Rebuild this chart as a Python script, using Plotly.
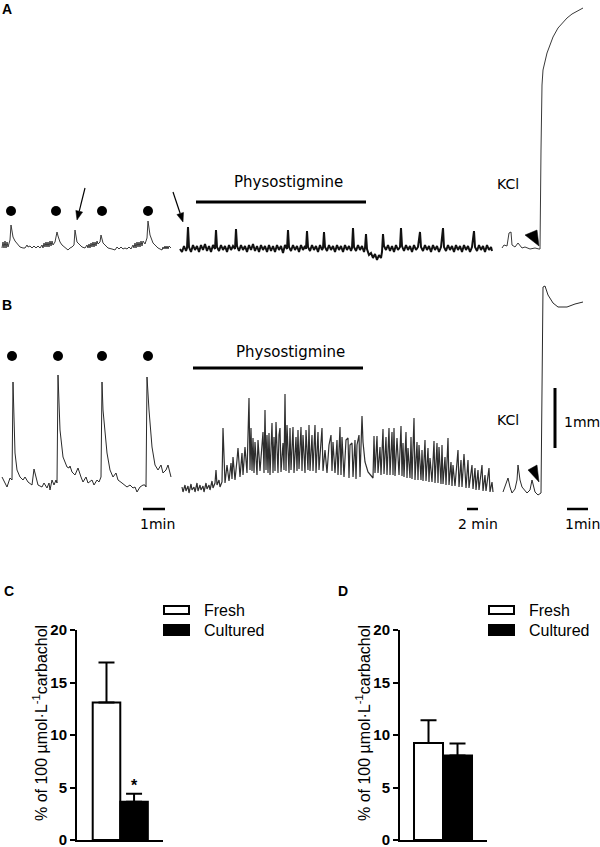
import plotly.graph_objects as go

W, H = 600, 847

# ---------------- trace data (x = record position, h = tension; 60 units = 1 mm) ----------------
A_SEG1_X = [2,3,4,5,6,7,8,10,11,13, 15,17,20,23,25,27,28,30,32,34, 36,38,40,42,43,44,45,46,47,48,
            49,50,51,52,53,55,57,58,60,62, 65,68,70,72,74,75,77,79,82,85, 87,88,89,90,91,92,93,94,95,96,
            97,98,100,101,103,105,108,112,115,117, 119,121,123,125,127,129,131,133,134,135,
            136,137,138,139,140,141,142,143,145,147, 148,150,153,156,158,162,163,164,165,166, 167,168,169,171]
A_SEG1_H = [2,8,2,9,2,8,3,10,25,13, 9,7,3,2,2,5,3,4,2,4, 2,4,2,5,2,7,3,8,3,8,
            3,9,4,9,5,8,18,14,8,5, 2,0,2,3,5,20,8,6,3,2, 5,2,6,2,7,3,8,3,8,4,
            9,6,8,15,7,5,2,1,0,3, 1,3,1,2,1,3,1,5,2,7,
            2,8,3,8,3,9,4,9,6,12, 29,15,7,4,2,0,3,1,4,1, 4,1,4,2]

A_SEG2_X = [180,182,184,186,187,188,189,191,193,195, 197,199,201,203,205,207,209,211,213,215,
            216,217,219,221,223,225,227,229,231,233, 235,236,237,239,241,243,245,247,249,251,
            253,255,257,259,261,263,265,267,269,271, 273,275,277,279,281,283,285,287,288,289,
            291,293,295,297,299,301,303,305,306,307, 308,310,312,314,316,318,320,322,323,324,
            325,327,329,331,333,335,337,339,341,343, 345,347,349,351,352,353,354,356,358,360,
            362,364,365,366,367,369,371,373,375,377, 379,381,382,383,384,386,388,390,392,394,
            396,398,400,401,402,404,406,408,410,412, 414,416,418,420,421,423,425,427,429,431,
            433,435,437,439,441,443,444,446,448,450, 452,454,456,458,460,462,464,466,468,470,
            472,474,475,477,479,481,483,485,487,489, 491,492]
A_SEG2_H = [1,-2,4,-1,2,23,3,-2,5,0, 4,-2,5,0,6,-1,4,-2,5,1,
            20,3,-1,5,0,4,-2,5,0,4, 1,21,4,-1,5,0,4,-2,5,0,
            6,-1,4,-2,5,0,4,-2,5,-1, 4,-2,5,0,4,-3,5,1,20,3,
            -1,5,0,4,-2,5,0,4,1,19, 3,-1,5,0,4,-2,5,0,2,18,
            3,-1,5,0,4,-2,5,0,4,-2, 5,0,4,-1,2,22,3,-1,5,0,
            4,-2,2,16,1,-5,-3,-8,-4,-10, -5,-8,-2,16,4,0,5,-1,4,-2,
            5,0,3,22,4,-1,5,0,4,-2, 5,0,3,18,3,-1,5,0,4,-2,
            5,0,4,-2,3,22,3,-1,5,0, 4,-2,5,0,4,-2,5,0,4,-2,
            3,19,3,-1,5,0,4,-2,5,0, 3,-1]

A_SEG3_X = [502,504,507,509,511,512,515,518,522,525, 530,535,539,540,541,542,543,545,547,550,
            553,558,563,567,572,577,583]
A_SEG3_H = [2,5,4,17,18,5,3,7,2,3, 1,2,1,1,100,165,180,190,197,205,
            213,222,228,232,236,239,242]

B_SEG1_X = [2,7,10,12,13,15,17,20,23,25, 28,32,34,37,38,42,44,47,49,50, 52,54,56,57,58,60,63,67,69,70,
            72,75,78,81,83,86,88,92,94,97, 99,101,102,103,107,110,113,116,118,122,
            125,127,130,133,135,137,140,143,145,146, 147,149,152,155,158,161,163,166,168,171]
B_SEG1_H = [18,8,17,15,113,42,25,18,15,18, 13,10,26,15,10,8,12,7,12,5, 15,10,15,12,120,65,38,28,27,29,
            23,20,27,18,13,18,12,15,10,15, 13,18,113,85,42,25,18,22,15,12,
            10,8,10,7,8,3,8,10,10,8, 118,85,48,30,25,30,22,25,30,18]

B_SEG2_X = [182,183,185,186,188,189,191,192,194,195, 197,198,200,201,203,204,206,207,209,210,
            212,213,215,216,217,219,220,222,223,225, 227,229,231,232,233,235,237,238,240,242,
            243,245,247,249,250,251,252,253,254,255, 257,258,260,263,264,265,266,267,268,269,
            270,272,273,274,275,276,278,279,280,281, 283,284,285,286,287,289,290,291,293,294,
            296,297,298,299,301,302,303,305,306,308, 309,310,312,313,315,316,318,319,322,323,
            325,327,329,331,332,333,335,337,338,340, 341,342,344,346,348,349,350,352,353,355,
            356,357,359,360,362,363,365,368,373,374, 375,377,378,380,381,383,384,386,387,389,
            390,392,393,394,395,397,399,401,402,403, 404,406,407,408,410,411,412,413,414,415,
            417,418,419,421,422,423,425,426,428,429, 430,432,434,435,437,438,439,441,442,443,
            445,446,448,449,451,452,453,455,458,459, 461,462,464,466,468,469,472,473,475,476,
            478,479,482,483,485,486,489,490,492,493]
B_SEG2_H = [8,3,10,4,9,2,11,5,8,3, 12,4,10,5,9,3,12,6,10,5,
            14,7,12,25,10,15,8,13,67,12, 30,14,32,16,38,15,35,47,18,42,
            20,48,22,97,25,67,24,57,22,53, 20,55,24,63,22,85,25,60,22,62,
            20,72,22,58,24,73,22,60,67,23, 52,25,101,24,70,22,67,25,68,22,
            58,24,65,26,68,24,60,22,65,25, 70,24,60,24,70,22,63,25,67,24,
            45,22,50,60,24,53,22,55,20,68, 20,58,18,55,57,17,50,52,18,55,
            16,50,60,18,79,53,33,23,17,59, 22,59,22,48,20,66,21,58,20,67,
            20,63,20,67,19,57,20,69,19,52, 18,63,17,47,17,58,16,57,77,15,
            53,15,50,15,45,14,55,14,47,13, 37,13,54,12,52,12,48,11,50,11,
            38,10,57,10,33,9,30,9,45,8, 35,8,41,7,35,7,30,6,27,5,
            25,5,30,4,20,4,27,3,13,3]

B_SEG3_X = [503,505,508,510,512,515,517,518,520,522, 525,527,530,532,535,538,541,542,543,545,
            548,553,558,567,575,583]
B_SEG3_H = [3,8,17,8,2,6,15,30,15,8, 4,2,5,15,3,0,2,100,208,209,
            200,192,188,188,191,193]

A_DOT_X = [11, 56, 102, 148]
B_DOT_X = [12, 58, 102, 148]

for xs, hs in [(A_SEG1_X, A_SEG1_H), (A_SEG2_X, A_SEG2_H), (A_SEG3_X, A_SEG3_H),
               (B_SEG1_X, B_SEG1_H), (B_SEG2_X, B_SEG2_H), (B_SEG3_X, B_SEG3_H)]:
    assert len(xs) == len(hs), (len(xs), len(hs))

# ---------------- bar chart data ----------------
GROUPS = ["Fresh", "Cultured"]
C_MEAN = [13.1, 3.65]
C_SEM = [3.8, 0.75]
D_MEAN = [9.25, 8.05]
D_SEM = [2.15, 1.15]
Y_TICKS = [0, 5, 10, 15, 20]

# ---------------- helpers ----------------
def px_x(v):
    return v / W

def px_y(v):
    return 1 - v / H

def dom_y(top, bot):
    return [px_y(bot), px_y(top)]

TRACE_FONT = "DejaVu Sans"
SANS = "Liberation Sans, Arial, sans-serif"

fig = go.Figure()

def seg(xs, hs, ax, color="#2a2a2a", width=1.0):
    fig.add_trace(go.Scatter(x=xs, y=hs, mode="lines", line=dict(color=color, width=width),
                             xaxis="x" if ax == 1 else "x2", yaxis="y" if ax == 1 else "y2",
                             showlegend=False, hoverinfo="skip"))

seg(A_SEG1_X, A_SEG1_H, 1, "#3a3a3a", 1.0)
seg(A_SEG2_X, A_SEG2_H, 1, "#111111", 2.0)
seg(A_SEG3_X, A_SEG3_H, 1, "#3a3a3a", 1.0)
seg(B_SEG1_X, B_SEG1_H, 2, "#2a2a2a", 1.0)
seg(B_SEG2_X, B_SEG2_H, 2, "#2e2e2e", 1.2)
seg(B_SEG3_X, B_SEG3_H, 2, "#2a2a2a", 1.0)

# dots above contractions
fig.add_trace(go.Scatter(x=A_DOT_X, y=[39] * len(A_DOT_X), mode="markers",
                         marker=dict(color="black", size=10), xaxis="x", yaxis="y",
                         showlegend=False, hoverinfo="skip"))
fig.add_trace(go.Scatter(x=B_DOT_X, y=[139] * len(B_DOT_X), mode="markers",
                         marker=dict(color="black", size=10), xaxis="x2", yaxis="y2",
                         showlegend=False, hoverinfo="skip"))

# bars C and D
fills = ["white", "black"]
for i, g in enumerate(GROUPS):
    fig.add_trace(go.Bar(x=[i], y=[C_MEAN[i]], width=1, name=g, xaxis="x3", yaxis="y3",
                         marker=dict(color=fills[i], line=dict(color="black", width=2)),
                         error_y=dict(type="data", array=[C_SEM[i]], arrayminus=[0], symmetric=False,
                                      color="black", thickness=2, width=8),
                         showlegend=False, hoverinfo="skip"))
    fig.add_trace(go.Bar(x=[i], y=[D_MEAN[i]], width=1, name=g, xaxis="x4", yaxis="y4",
                         marker=dict(color=fills[i], line=dict(color="black", width=2)),
                         error_y=dict(type="data", array=[D_SEM[i]], arrayminus=[0], symmetric=False,
                                      color="black", thickness=2, width=8),
                         showlegend=False, hoverinfo="skip"))

hidden = dict(visible=False, fixedrange=True, automargin=False)
bar_x = dict(showline=True, linewidth=2, linecolor="black", showticklabels=False, ticks="",
             showgrid=False, zeroline=False, automargin=False)
bar_y = dict(range=[0, 20], showline=True, linewidth=2, linecolor="black", ticks="outside",
             ticklen=5, tickwidth=2, tickcolor="black", tickvals=Y_TICKS, showgrid=False,
             zeroline=False, automargin=False, ticklabeloverflow="allow",
             tickfont=dict(family=SANS, size=15, color="black", weight="bold"))

fig.update_layout(
    width=W, height=H, margin=dict(l=0, r=0, t=0, b=0, autoexpand=False),
    paper_bgcolor="white", plot_bgcolor="rgba(0,0,0,0)", barmode="overlay",
    xaxis=dict(domain=[0, 1], range=[0, 600], anchor="y", **hidden),
    yaxis=dict(domain=dom_y(0, 270), range=[-20, 250], anchor="x", **hidden),
    xaxis2=dict(domain=[0, 1], range=[0, 600], anchor="y2", **hidden),
    yaxis2=dict(domain=dom_y(280, 540), range=[-45, 215], anchor="x2", **hidden),
    xaxis3=dict(domain=[px_x(77), px_x(163)], range=[-1.07, 2.05], anchor="y3", **bar_x),
    yaxis3=dict(domain=dom_y(630, 840), anchor="x3", **bar_y),
    xaxis4=dict(domain=[px_x(400), px_x(487)], range=[-0.983, 2.017], anchor="y4", **bar_x),
    yaxis4=dict(domain=dom_y(630, 840), anchor="x4", **bar_y),
)

shapes = []
ann = []

def line_shape(x0, y0, x1, y1, ax, w=3):
    shapes.append(dict(type="line", xref="x" if ax == 1 else "x2", yref="y" if ax == 1 else "y2",
                       x0=x0, y0=y0, x1=x1, y1=y1, line=dict(color="black", width=w)))

def tri(path, ax):
    shapes.append(dict(type="path", xref="x" if ax == 1 else "x2", yref="y" if ax == 1 else "y2",
                       path=path, fillcolor="black", line=dict(color="black", width=0.5)))

def text(x, y, s, ax, size=14, xanchor="center", family=TRACE_FONT):
    ann.append(dict(x=x, y=y, xref="x" if ax == 1 else "x2", yref="y" if ax == 1 else "y2",
                    text=s, showarrow=False, xanchor=xanchor, yanchor="middle",
                    font=dict(family=family, size=size, color="black")))

# Panel A decorations
line_shape(196, 48, 366, 48, 1)
text(288, 68, "Physostigmine", 1, size=15)
text(508, 66, "KCl", 1, size=14)
tri("M 525,15 L 537,20 L 539,4 Z", 1)
# arrows pointing at spontaneous contractions
line_shape(85, 62, 79.2, 38.7, 1, w=1.2)
tri("M 77,30 L 82.6,37.9 L 75.8,39.6 Z", 1)
line_shape(173, 58, 180.2, 36.5, 1, w=1.2)
tri("M 183,28 L 183.5,37.6 L 176.9,35.4 Z", 1)

# Panel B decorations
line_shape(193, 127, 363, 127, 2)
text(290, 143, "Physostigmine", 2, size=15)
text(508, 75, "KCl", 2, size=14)
tri("M 528,25 L 537,30 L 539,13 Z", 2)
line_shape(555, 47, 555, 107, 2, w=3)
text(562, 73, "1mm", 2, size=14, xanchor="left")
line_shape(143, -14, 165, -14, 2, w=2.5)
line_shape(467, -14, 478, -14, 2, w=2.5)
line_shape(567, -14, 588, -14, 2, w=2.5)
text(157, -29, "1min", 2, size=14)
text(478, -29, "2 min", 2, size=14)
text(582, -29, "1min", 2, size=14)

# panel letters
for lx, ly, s in [(7, 9, "A"), (7, 305, "B"), (9, 591, "C"), (343, 591, "D")]:
    ann.append(dict(x=px_x(lx), y=px_y(ly), xref="paper", yref="paper", text=s, showarrow=False,
                    xanchor="center", yanchor="middle",
                    font=dict(family=SANS, size=14, color="black", weight="bold")))

# y titles
for tx in [40, 363]:
    ann.append(dict(x=px_x(tx), y=px_y(723), xref="paper", yref="paper",
                    text="% of 100 \u00b5mol\u00b7L<sup>-1</sup>carbachol", textangle=-90,
                    showarrow=False, xanchor="center", yanchor="middle",
                    font=dict(family=SANS, size=16, color="black")))

# legends
for bx, tx in [(163, 202), (488, 527)]:
    shapes.append(dict(type="rect", xref="paper", yref="paper", x0=px_x(bx + 1), x1=px_x(bx + 26),
                       y0=px_y(614), y1=px_y(606), fillcolor="white",
                       line=dict(color="black", width=2)))
    shapes.append(dict(type="rect", xref="paper", yref="paper", x0=px_x(bx), x1=px_x(bx + 27),
                       y0=px_y(636), y1=px_y(624), fillcolor="black", line=dict(width=0)))
    for ty, s in [(610, GROUPS[0]), (630, GROUPS[1])]:
        ann.append(dict(x=px_x(tx), y=px_y(ty), xref="paper", yref="paper", text=s,
                        showarrow=False, xanchor="left", yanchor="middle",
                        font=dict(family=SANS, size=16, color="black")))

# significance asterisk
ann.append(dict(x=1, y=4.15, xref="x3", yref="y3", text="*", showarrow=False,
                xanchor="center", yanchor="bottom",
                font=dict(family=SANS, size=16, color="black", weight="bold")))

fig.update_layout(shapes=shapes, annotations=ann)
fig.write_html("out.html", config={"displayModeBar": False},
               post_script="document.body.style.margin='0';document.body.style.padding='0';"
                           "document.body.style.overflow='hidden';")
